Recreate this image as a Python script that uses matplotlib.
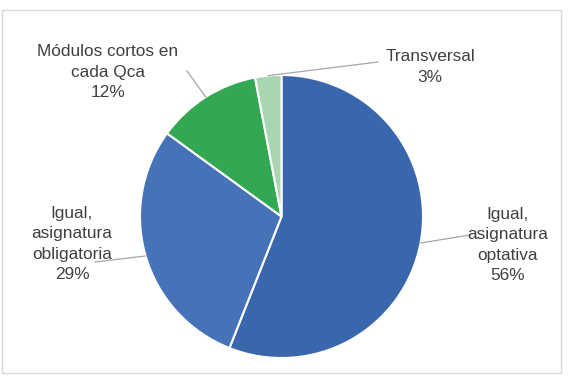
import numpy as np
import matplotlib.pyplot as plt
from matplotlib.patches import Rectangle

# ====== 数据 ======
labels = ["Igual,\nasignatura\noptativa", "Igual,\nasignatura\nobligatoria",
          "Módulos cortos en\ncada Qca", "Transversal"]
values = [56, 29, 12, 3]
colors = ["#3966AD", "#4673B8", "#33A853", "#A9D5B2"]

# 标签位置（像素，居中）和引线终点
label_pos = [(508, 245), (72, 244), (108, 72), (430, 67)]
line_end = [(470, 235), (95, 262), (187, 71), (378, 62)]

W, H = 579, 378
cx, cy, R = 281.5, 216.5, 141.5

fig = plt.figure(figsize=(W / 100, H / 100), dpi=100)
ax = fig.add_axes([0, 0, 1, 1])

def px(x, y):
    return (x - cx) / R, (cy - y) / R

wedges, _ = ax.pie(values, colors=colors, startangle=90, counterclock=False,
                   radius=1, wedgeprops=dict(edgecolor="white", linewidth=1.5))

# pie() 会改坐标范围，之后再设
ax.set_xlim((0 - cx) / R, (W - cx) / R)
ax.set_ylim((cy - H) / R, cy / R)
ax.set_aspect("equal")
ax.axis("off")

total = sum(values)
start = 90
for i, v in enumerate(values):
    mid = np.deg2rad(start - v / total * 360 / 2)
    start -= v / total * 360
    p0 = (np.cos(mid), np.sin(mid))
    p1 = px(*line_end[i])
    ax.plot([p0[0], p1[0]], [p0[1], p1[1]], color="#A6A6A6", lw=0.9)
    tx, ty = px(*label_pos[i])
    ax.text(tx, ty, f"{labels[i]}\n{values[i]}%", ha="center", va="center",
            fontsize=12.4, color="#404040", family="Liberation Sans",
            linespacing=1.45)

# 外框
fig.patches.append(Rectangle((1.5 / W, 1 - 372.5 / H), 559.5 / W, 363 / H,
                             transform=fig.transFigure, fill=False,
                             edgecolor="#D9D9D9", lw=1))

fig.savefig("out.png", dpi=100)
